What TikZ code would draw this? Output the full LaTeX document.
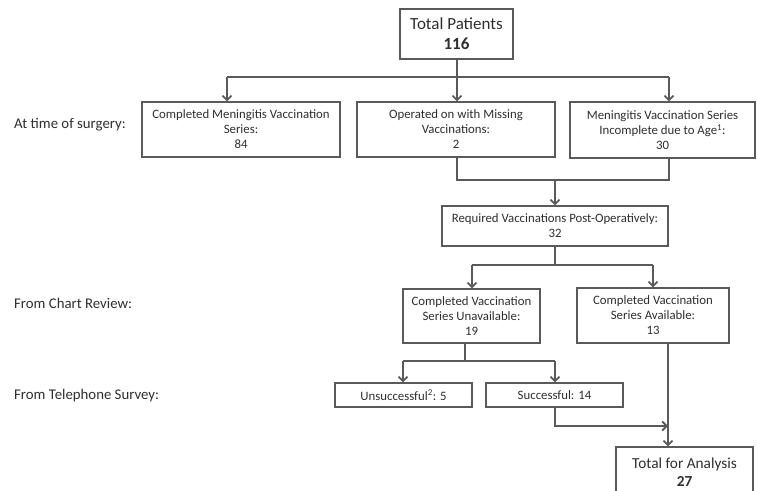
\documentclass[tikz,border=0pt]{standalone}
\usepackage{fontspec}
\setmainfont{Carlito}
\usetikzlibrary{arrows.meta}
\definecolor{linegray}{HTML}{5A5A5A}
\definecolor{txtgray}{HTML}{2E2E2E}
\tikzset{
  box/.style={draw=linegray, line width=1.1pt, text=txtgray, align=center, inner sep=0pt, font=\fontsize{12.8}{15}\selectfont},
  bigbox/.style={box, font=\fontsize{17}{20}\selectfont},
  conn/.style={draw=linegray, line width=1.1pt},
  arr/.style={conn, -{Straight Barb[length=4.5pt,width=9pt,line width=1.8pt]}, shorten >=0pt},
  lab/.style={anchor=west, text=txtgray, inner sep=0pt, font=\fontsize{14.8}{16}\selectfont}
}
\begin{document}
\begin{tikzpicture}[x=1pt,y=-1pt]
\useasboundingbox (0,0) rectangle (757,490);
\clip (0,0) rectangle (757,490);
% nodes
\node[bigbox, minimum width=113pt, minimum height=50pt] (tp) at (456.5,34) {Total Patients\\\textbf{116}};
\node[box, minimum width=198pt, minimum height=55pt] (b1) at (241,129.5) {Completed Meningitis Vaccination\\Series:\\84};
\node[box, minimum width=198pt, minimum height=55pt] (b2) at (456,129.5) {Operated on with Missing\\Vaccinations:\\2};
\node[box, minimum width=185pt, minimum height=56pt] (b3) at (662.5,130) {Meningitis Vaccination Series\\Incomplete due to Age\textsuperscript{1}:\\30};
\node[box, minimum width=226pt, minimum height=40pt] (req) at (555,226) {Required Vaccinations Post-Operatively:\\32};
\node[box, minimum width=137pt, minimum height=54pt] (una) at (471.5,316) {Completed Vaccination\\Series Unavailable:\\19};
\node[box, minimum width=152pt, minimum height=55pt] (ava) at (653,315.5) {Completed Vaccination\\Series Available:\\13};
\node[box, minimum width=137pt, minimum height=24pt] (uns) at (403.5,395) {Unsuccessful\textsuperscript{2}: 5};
\node[box, minimum width=137pt, minimum height=24pt] (suc) at (554.5,395) {Successful: 14};
\node[box, font=\fontsize{15.3}{18}\selectfont, minimum width=137pt, minimum height=50pt] (tot) at (684.5,472) {Total for Analysis\\\textbf{27}};
% left labels
\node[lab] (l1) at (14,125) {At time of surgery:};
\node[lab] (l2) at (14,303) {From Chart Review:};
\node[lab] (l3) at (14,396) {From Telephone Survey:};
% junction coordinates
\coordinate (j1) at (457,77);
\coordinate (j1a) at (227,77);
\coordinate (j1c) at (669,77);
\coordinate (j2a) at (457,180);
\coordinate (j2c) at (669,180);
\coordinate (j2m) at (555,180);
\coordinate (j3) at (555,265);
\coordinate (j3a) at (472,265);
\coordinate (j3c) at (653,265);
\coordinate (j4) at (465,361);
\coordinate (j4a) at (403,361);
\coordinate (j4c) at (555,361);
\coordinate (j5) at (555,426);
\coordinate (j5c) at (668,426);
% connectors
\draw[conn] (tp.south -| j1) -- (j1);
\draw[conn] (j1a) -- (j1c);
\draw[arr] (j1a) -- (b1.north -| j1a);
\draw[arr] (j1) -- (b2.north -| j1);
\draw[arr] (j1c) -- (b3.north -| j1c);
\draw[conn] (b2.south -| j2a) -- (j2a) -- (j2c) -- (b3.south -| j2c);
\draw[arr] (j2m) -- (req.north -| j2m);
\draw[conn] (req.south -| j3) -- (j3);
\draw[conn] (j3a) -- (j3c);
\draw[arr] (j3a) -- (una.north -| j3a);
\draw[arr] (j3c) -- (ava.north -| j3c);
\draw[conn] (una.south -| j4) -- (j4);
\draw[conn] (j4a) -- (j4c);
\draw[arr] (j4a) -- (uns.north -| j4a);
\draw[arr] (j4c) -- (suc.north -| j4c);
\draw[arr] (suc.south -| j5) -- (j5) -- (j5c);
\draw[arr] (ava.south -| j5c) -- (tot.north -| j5c);
\end{tikzpicture}
\end{document}
